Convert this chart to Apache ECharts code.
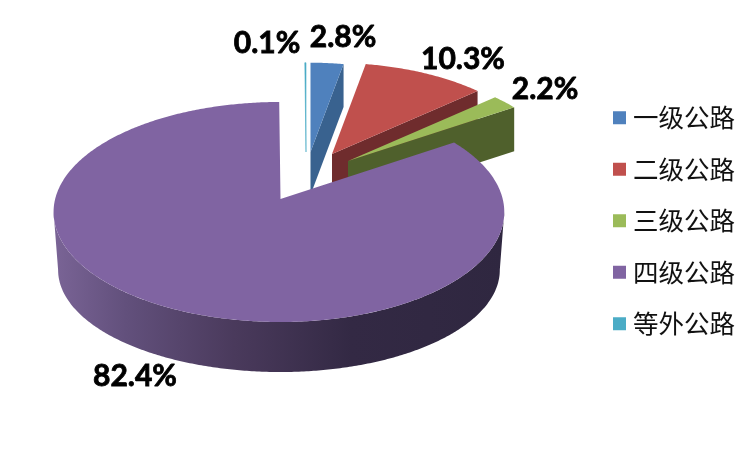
<!DOCTYPE html>
<html><head><meta charset="utf-8">
<style>html,body{margin:0;padding:0;background:#fff}#c{width:750px;height:450px}</style>
<script src="https://cdn.jsdelivr.net/npm/echarts@6/dist/echarts.min.js"></script>
</head><body><div id="c"></div>
<script>
// Data
const categories = ['一级公路','二级公路','三级公路','四级公路','等外公路'];
const shares = [2.8, 10.3, 2.2, 82.4, 0.1];

// Styles and geometry
const colors = ['#4f81bd','#c0504d','#9bbb59','#8064a2','#4bacc6'];
const wallColors = ['#39628f','#6f2c2d','#4f602c','#32283f','#2f7a8c'];
const apexes = [[310.5,152],[332,154],[348,161],[280.5,199],[306,152]];
const scales = [0.92,0.94,0.95,1,0.92];
const wallHeights = [43,44,44,59,43];
const labelPos = [[343,37],[463,59],[545,89],[135,376],[267,43]];
const R = 224, C = 0.118;
const total = shares.reduce((a,b)=>a+b,0);

// perspective projection of a pie point (theta clockwise from top), relative to the slice apex
function project(theta, s){
  const u = Math.sin(theta), v = Math.cos(theta), d = 1 + C*v;
  return [s*R*u/d, s*(-85*v - 199*C*v)/d];
}
function arc(i, a0, a1, dy, xs, ys){
  const pts = [], [ax,ay] = apexes[i], s = scales[i], n = Math.max(2, Math.ceil(Math.abs(a1-a0)/0.01));
  for(let k=0;k<=n;k++){
    const t = a0 + (a1-a0)*k/n, p = project(t,s);
    const skew = i===3 ? (p[0]<0 ? 1.006 : 0.992) : 1;
    pts.push([ax + p[0]*xs*skew, ay + p[1]*ys + dy]);
  }
  return pts;
}
let startAngles = [], cum = 0;
shares.forEach(v=>{startAngles.push(cum/total*2*Math.PI); cum += v;});

function renderSlice(i){
  return function(params, api){
    const value = api.value(0);
    const a0 = startAngles[i], a1 = a0 + value/total*2*Math.PI;
    const [ax,ay] = apexes[i], h = wallHeights[i], kids = [];
    if(i === 3){
      // silhouette limits: where the projected rim is widest
      const tR = Math.acos(-C), tL = 2*Math.PI - tR;
      const top = arc(i, tR, tL, 0, 1, 1);
      const base = arc(i, tR, tL, h, 0.98, 0.927).reverse();
      kids.push({type:'polygon', shape:{points: top.concat(base)}, style:{fill:{
        type:'linear',x:0,y:0,x2:1,y2:0,colorStops:[
          {offset:0,color:'#7a6496'},{offset:0.16,color:'#62507c'},{offset:0.4,color:'#4a3a5c'},
          {offset:0.66,color:'#332944'},{offset:1,color:'#2f2740'}]}}});
    } else {
      const e = arc(i, a1, a1, 0, 1, 1)[0];
      kids.push({type:'polygon', shape:{points:[[ax,ay],e,[e[0],e[1]+h],[ax,ay+h]]}, style:{fill:wallColors[i]}});
    }
    kids.push({type:'polygon', shape:{points:[[ax,ay]].concat(arc(i,a0,a1,0,1,1))},
      style:{fill:colors[i], stroke: i===4?colors[i]:null, lineWidth: i===4?0.6:0}});
    return {type:'group', children:kids};
  };
}
function renderLabel(params, api){
  return {type:'group', children: shares.map((v,i)=>({type:'text', style:{
    x:labelPos[i][0], y:labelPos[i][1], text:v.toFixed(1)+'%',
    fill:'#000', stroke:'#000', lineWidth:0.8, font:'bold 30px Lato', align:'center', verticalAlign:'middle'}}))};
}

const order = [4,0,1,2,3];
const series = order.map(i=>({
  type:'custom', name:categories[i], coordinateSystem:'none', silent:true, animation:false,
  itemStyle:{color:colors[i]}, data:[[shares[i]]], renderItem:renderSlice(i)
}));
series.push({type:'custom', name:'labels', coordinateSystem:'none', silent:true, animation:false,
  z:5, data:[[0]], renderItem:renderLabel});

const chart = echarts.init(document.getElementById('c'), null, {renderer:'canvas'});
chart.setOption({
  animation:false, backgroundColor:'#fff',
  legend:{data:categories, orient:'vertical', left:613, top:105, padding:0, icon:'rect', itemWidth:13, itemHeight:13,
    itemGap:26, selectedMode:false,
    textStyle:{fontFamily:'"Noto Sans CJK SC"', fontSize:25.5, color:'#111', lineHeight:25, padding:[0,0,0,2]}},
  series
});
</script></body></html>
